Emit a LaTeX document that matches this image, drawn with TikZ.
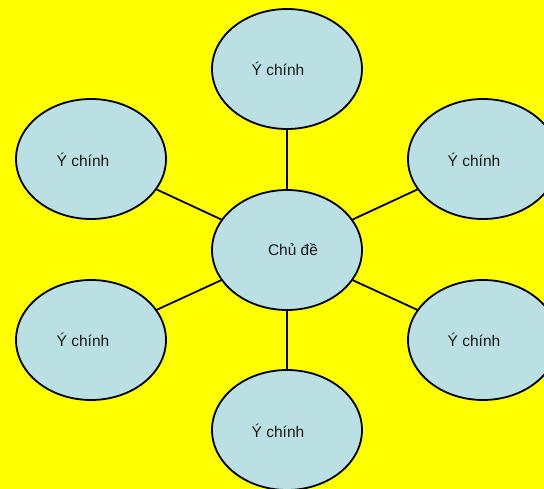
\documentclass[tikz,border=0pt]{standalone}
\usepackage{fontspec}
\setmainfont{Liberation Sans}
\usetikzlibrary{shapes.geometric}
\definecolor{bg}{RGB}{255,255,0}
\definecolor{bubble}{RGB}{186,224,228}
\definecolor{txt}{RGB}{25,25,25}
\begin{document}
\begin{tikzpicture}[x=1pt,y=-1pt,
  bubble/.style={ellipse,draw=black,line width=1.8pt,fill=bubble,minimum width=150pt,minimum height=120pt,inner sep=0pt},
  lab/.style={text=txt,font=\fontsize{15.5}{17}\selectfont},
  link/.style={draw=black,line width=1.8pt}]
\fill[bg] (0,0) rectangle (544,489);
\useasboundingbox (0,0) rectangle (544,489);
\node[bubble] (c) at (287,250) {};
\node[bubble] (t) at (287,69) {};
\node[bubble] (tl) at (91,159) {};
\node[bubble] (tr) at (483,159) {};
\node[bubble] (bl) at (91,340) {};
\node[bubble] (br) at (483,340) {};
\node[bubble] (b) at (287,430) {};
\node[lab] (ct) at (293,250) {Chủ đề};
\node[lab] (tt) at (278,69) {Ý chính};
\node[lab] (tlt) at (83,160) {Ý chính};
\node[lab] (trt) at (474,160) {Ý chính};
\node[lab] (blt) at (83,340) {Ý chính};
\node[lab] (brt) at (474,340) {Ý chính};
\node[lab] (bt) at (278,431) {Ý chính};
\path[link] (c) -- (t);
\path[link] (c) -- (b);
\path[link] (c) -- (tl);
\path[link] (c) -- (tr);
\path[link] (c) -- (bl);
\path[link] (c) -- (br);
\end{tikzpicture}
\end{document}
